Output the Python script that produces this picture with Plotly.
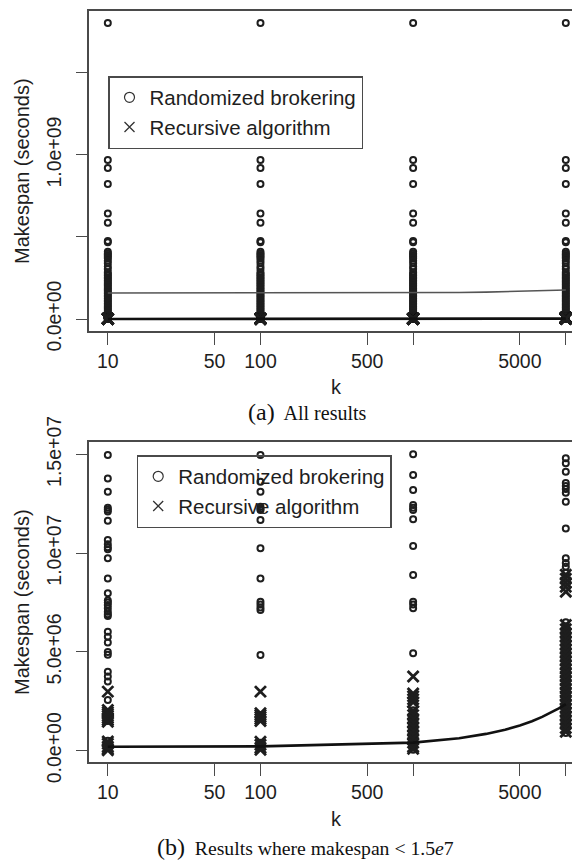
import plotly.graph_objects as go

# ---------------- data ----------------
K = [10, 100, 1000, 10000]
MS = 1e6  # values below are in millions of seconds

# Randomized brokering makespans above 1.5e7 s (only visible in panel a)
RAND_HIGH_10 = [1805, 970, 920, 823, 644, 587, 475, 468, 410, 400, 390, 380, 370, 355,
                340, 320, 305, 285, 275, 265, 255, 245, 235, 225, 215, 205, 195, 185,
                175, 165, 155, 145, 135, 125, 115, 105, 95, 85, 75, 65, 55, 45, 35, 25, 18]
RAND_HIGH_100 = [1805, 970, 920, 823, 644, 587, 475, 468, 410, 400, 390, 380, 370, 355,
                 340, 320, 305, 285, 275, 265, 255, 245, 235, 225, 215, 205, 195, 185,
                 175, 165, 155, 145, 135, 125, 115, 105, 95, 85, 75, 65, 55, 45, 35, 25, 18]
RAND_HIGH_1000 = [1805, 970, 920, 823, 644, 587, 475, 468, 410, 400, 390, 380, 370, 355,
                  340, 320, 305, 285, 275, 265, 255, 245, 235, 225, 215, 205, 195, 185,
                  175, 165, 155, 145, 135, 125, 115, 105, 95, 85, 75, 65, 55, 45, 35, 25, 18]
RAND_HIGH_10000 = [1805, 970, 920, 823, 644, 587, 475, 468, 410, 400, 390, 380, 370, 355,
                   340, 320, 305, 285, 275, 265, 255, 245, 235, 225, 215, 205, 195, 185,
                   175, 165, 155, 145, 135, 125, 115, 105, 95, 85, 75, 65, 55, 45, 35, 25, 18]

# Randomized brokering makespans below 1.5e7 s (panel b)
RAND_LOW_10 = [14.96, 13.78, 13.11, 12.3, 12.2, 12.1, 11.64, 10.66, 10.45, 10.3, 10.2, 9.74,
               8.72, 7.97, 7.6, 7.5, 7.37, 7.21, 7.03, 6.9, 6.82, 6.02, 5.77, 5.47, 5.0,
               4.85, 4.0, 3.75, 3.5, 2.57, 1.8, 1.5, 0.5, 0.3, 0.15]
RAND_LOW_100 = [14.96, 13.61, 13.11, 12.35, 12.25, 12.18, 11.67, 10.24, 8.72, 7.54, 7.4,
                7.25, 7.12, 4.84, 1.7, 0.4, 0.2]
RAND_LOW_1000 = [15.0, 13.95, 13.19, 12.43, 12.3, 12.18, 11.71, 10.36, 8.89, 7.54, 7.4,
                 7.21, 4.93, 2.05, 1.95, 1.85, 1.75, 1.65, 1.55, 1.45, 1.35, 1.25, 1.15,
                 1.05, 0.95, 0.85, 0.75, 0.65, 0.55, 0.45, 0.35, 0.25, 0.15, 0.05]
RAND_LOW_10000 = [14.8, 14.55, 14.12, 13.55, 13.4, 13.25, 13.05, 12.6, 11.25, 9.74, 9.5,
                  9.31, 9.0, 6.5, 6.3, 6.1, 5.9, 5.7, 5.5, 5.3, 5.1, 4.9, 4.7, 4.5, 4.3,
                  4.1, 3.9, 3.7, 3.5, 3.3, 3.1, 2.9, 2.7, 2.5, 2.3, 2.1, 1.9, 1.7, 1.5,
                  1.3, 1.1, 0.9]

# Recursive algorithm makespans (all below 1.5e7 s)
REC_10 = [2.99, 2.06, 1.95, 1.85, 1.75, 1.65, 1.55, 1.47, 0.46, 0.35, 0.2, 0.1, 0.02]
REC_100 = [2.99, 1.9, 1.8, 1.7, 1.6, 1.5, 0.45, 0.3, 0.15, 0.05]
REC_1000 = [3.75, 2.9, 2.75, 2.6, 2.45, 2.0, 1.8, 1.6, 1.4, 1.2, 1.0, 0.8, 0.6, 0.4,
            0.2, 0.1]
REC_10000 = [8.9, 8.7, 8.5, 8.3, 8.05, 6.36, 6.15, 5.95, 5.75, 5.55, 5.35, 5.15, 4.95,
             4.75, 4.55, 4.35, 4.15, 3.95, 3.75, 3.55, 3.35, 3.15, 2.95, 2.75, 2.55,
             2.35, 2.15, 1.95, 1.75, 1.55, 1.35, 1.15, 0.96]

# fitted lines
FIT_K = [10, 100, 1000, 2000, 3000, 4000, 5000, 6000, 7000, 8000, 9000, 10000]
RAND_FIT = [158.5, 158.7, 160.3, 162.0, 164.0, 166.0, 168.0, 170.0, 171.5, 173.3, 175.2, 177.0]
REC_FIT = [0.20, 0.22, 0.41, 0.63, 0.85, 1.06, 1.28, 1.49, 1.71, 1.93, 2.14, 2.36]

X_TICKS = [10, 50, 100, 500, 1000, 5000, 10000]
X_TICKTEXT = ["10", "50", "100", "500", "", "5000", ""]
YA_TICKS = [0, 5e8, 1e9, 1.5e9]
YA_TICKTEXT = ["0.0e+00", "", "1.0e+09", ""]
YB_TICKS = [0, 5e6, 1e7, 1.5e7]
YB_TICKTEXT = ["0.0e+00", "5.0e+06", "1.0e+07", "1.5e+07"]

# ---------------- figure ----------------
# The page body keeps its default 8px margin, so the figure is 8px smaller
# than the window and layout positions are given in window pixels.
OFF = 8
W, H = 580 - OFF, 860 - OFF


def PX(x):
    return (x - OFF) / W


def PY(y):
    return 1 - (y - OFF) / H


SANS = "Liberation Sans, Arial, sans-serif"
SERIF = "Liberation Serif, Times New Roman, serif"
INK = "#1e1e1e"
AX = "#4a4a4a"

rand_all = {10: RAND_HIGH_10 + RAND_LOW_10, 100: RAND_HIGH_100 + RAND_LOW_100,
            1000: RAND_HIGH_1000 + RAND_LOW_1000, 10000: RAND_HIGH_10000 + RAND_LOW_10000}
rand_low = {10: RAND_LOW_10, 100: RAND_LOW_100, 1000: RAND_LOW_1000, 10000: RAND_LOW_10000}
rec = {10: REC_10, 100: REC_100, 1000: REC_1000, 10000: REC_10000}


def cols(d):
    xs, ys = [], []
    for k in K:
        xs += [k] * len(d[k])
        ys += [v * MS for v in d[k]]
    return xs, ys


circ = dict(symbol="circle-open", size=6, color=INK, line=dict(width=2, color=INK))
cross = dict(symbol="x-thin-open", size=11, color=INK, line=dict(width=2.8, color=INK))
circ_leg = dict(symbol="circle-open", size=10, color="#333", line=dict(width=1.2, color="#333"))
cross_leg = dict(symbol="x-thin-open", size=10, color="#333", line=dict(width=1.3, color="#333"))

fig = go.Figure()

# panel (a)
xa, ya = cols(rand_all)
fig.add_trace(go.Scatter(x=xa, y=ya, mode="markers", marker=circ, showlegend=False,
                         xaxis="x", yaxis="y", hoverinfo="skip"))
xr, yr = cols(rec)
fig.add_trace(go.Scatter(x=xr, y=yr, mode="markers", marker=cross, showlegend=False,
                         xaxis="x", yaxis="y", hoverinfo="skip"))
fig.add_trace(go.Scatter(x=FIT_K, y=[v * MS for v in RAND_FIT], mode="lines",
                         line=dict(color="#555555", width=1.6), showlegend=False,
                         xaxis="x", yaxis="y"))
fig.add_trace(go.Scatter(x=FIT_K, y=[v * MS for v in REC_FIT], mode="lines",
                         line=dict(color="#111111", width=2.6), showlegend=False,
                         xaxis="x", yaxis="y"))
fig.add_trace(go.Scatter(x=[None], y=[None], mode="markers", marker=circ_leg,
                         name="Randomized brokering", legend="legend", xaxis="x", yaxis="y"))
fig.add_trace(go.Scatter(x=[None], y=[None], mode="markers", marker=cross_leg,
                         name="Recursive algorithm", legend="legend", xaxis="x", yaxis="y"))

# panel (b)
xb, yb = cols(rand_low)
fig.add_trace(go.Scatter(x=xb, y=yb, mode="markers", marker=circ, showlegend=False,
                         xaxis="x2", yaxis="y2", hoverinfo="skip"))
fig.add_trace(go.Scatter(x=xr, y=yr, mode="markers", marker=cross, showlegend=False,
                         xaxis="x2", yaxis="y2", hoverinfo="skip"))
fig.add_trace(go.Scatter(x=FIT_K, y=[v * MS for v in REC_FIT], mode="lines",
                         line=dict(color="#111111", width=2.6), showlegend=False,
                         xaxis="x2", yaxis="y2"))
fig.add_trace(go.Scatter(x=[None], y=[None], mode="markers", marker=circ_leg,
                         name="Randomized brokering", legend="legend2", xaxis="x2", yaxis="y2"))
fig.add_trace(go.Scatter(x=[None], y=[None], mode="markers", marker=cross_leg,
                         name="Recursive algorithm", legend="legend2", xaxis="x2", yaxis="y2"))

tickfont = dict(family=SANS, size=19.5, color=INK)


def xax(anchor):
    return dict(type="log", range=[0.8755, 4.093], domain=[PX(88.8), 1], anchor=anchor,
                tickmode="array", tickvals=X_TICKS, ticktext=X_TICKTEXT, ticks="outside",
                ticklen=12, tickwidth=1.3, tickcolor=AX, showline=True, linecolor=AX,
                linewidth=1.5, mirror=True, showgrid=False, zeroline=False,
                tickfont=tickfont, tickangle=0, ticklabelstandoff=0, automargin=False)


def yax(anchor, dom, rng, tv, tt):
    return dict(domain=dom, range=rng, anchor=anchor, tickmode="array", tickvals=tv,
                ticktext=tt, ticks="outside", ticklen=11, tickwidth=1.3, tickcolor=AX,
                showline=True, linecolor=AX, linewidth=1.5, mirror=False, showgrid=False,
                zeroline=False, tickfont=tickfont, tickangle=-90, ticklabelstandoff=7,
                automargin=False)


leg_common = dict(xanchor="left", yanchor="top", bordercolor=AX, borderwidth=1.5,
                  bgcolor="rgba(0,0,0,0)", font=dict(family=SANS, size=20.5, color=INK),
                  tracegroupgap=0)


def ann(text, x, y, size, family=SANS, angle=0, color=INK):
    return dict(text=text, x=PX(x), y=PY(y), xref="paper", yref="paper",
                xanchor="center", yanchor="middle", showarrow=False, textangle=angle,
                font=dict(family=family, size=size, color=color))


fig.update_layout(
    width=W, height=H, margin=dict(l=0, r=0, t=0, b=0, autoexpand=False),
    paper_bgcolor="white", plot_bgcolor="white",
    xaxis=xax("y"),
    yaxis=yax("x", [PY(331), PY(11)], [-7.32e7, 1.878e9], YA_TICKS, YA_TICKTEXT),
    xaxis2=xax("y2"),
    yaxis2=yax("x2", [PY(762), PY(442)], [-5.72e5, 1.5623e7], YB_TICKS, YB_TICKTEXT),
    legend=dict(x=PX(108), y=PY(76), **leg_common),
    legend2=dict(x=PX(136.7), y=PY(455), **leg_common),
    showlegend=True,
    annotations=[
        ann("k", 336.8, 387, 20),
        ann("k", 336.8, 819, 20),
        ann("Makespan (seconds)", 22, 171, 20, angle=-90),
        ann("Makespan (seconds)", 22, 602, 20, angle=-90),
        ann("<span style='font-size:24px'>(a)</span>  All results", 307, 412, 20,
            family=SERIF, color="#111"),
        ann("<span style='font-size:24px'>(b)</span>  Results where makespan &lt; 1.5<i>e</i>7",
            305, 847, 19.7, family=SERIF, color="#111"),
    ],
)

fig.write_html("out.html")
